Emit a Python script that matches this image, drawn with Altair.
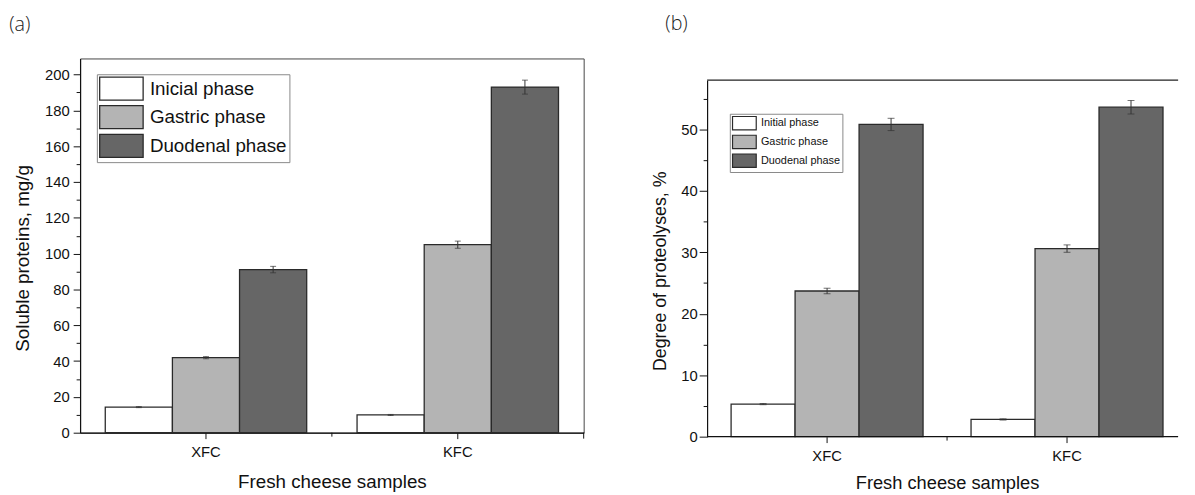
import altair as alt
import pandas as pd

# ---------------- data ----------------
samples = ["XFC", "KFC"]
phases_a = ["Inicial phase", "Gastric phase", "Duodenal phase"]
phases_b = ["Initial phase", "Gastric phase", "Duodenal phase"]

protein_xfc = [14.3, 41.9, 91.1]
protein_kfc = [9.9, 105.0, 193.0]
protein_err_xfc = [0.3, 0.6, 1.8]
protein_err_kfc = [0.3, 2.0, 3.9]

degree_xfc = [5.3, 23.7, 50.8]
degree_kfc = [2.8, 30.6, 53.6]
degree_err_xfc = [0.1, 0.45, 1.0]
degree_err_kfc = [0.1, 0.6, 1.1]

fills = ["#ffffff", "#b4b4b4", "#666666"]

a_ticks = list(range(0, 201, 10))
b_ticks = list(range(0, 56, 5))


def frame(phases, vx, vk, ex, ek):
    rows = []
    for s, vals, errs in (("XFC", vx, ex), ("KFC", vk, ek)):
        for p, v, e in zip(phases, vals, errs):
            rows.append({"sample": s, "phase": p, "value": v, "lo": v - e, "hi": v + e})
    return pd.DataFrame(rows)


df_a = frame(phases_a, protein_xfc, protein_kfc, protein_err_xfc, protein_err_kfc)
df_b = frame(phases_b, degree_xfc, degree_kfc, degree_err_xfc, degree_err_kfc)
one = pd.DataFrame({"k": [0]})

FONT = "Liberation Sans"


def swatch_path(w, h):
    r = h / 2.0
    return f"M-1,-1H{w / r - 1:.3f}V1H-1Z"


def panel(df, phases, ymax, yrange, yticks, major, ytitle, ytitle_size, ytitle_x, ytitle_y,
          xtitle_size, xtitle_y, xtitle_x, xrange, x_domain, leg, label, label_xy,
          ytick_major, ytick_minor, ylabel_pad, cap):
    if xrange is not None:
        xscale = alt.Scale(paddingInner=0.2, paddingOuter=0.1, range=xrange)
    else:
        xscale = alt.Scale(paddingInner=0.2, paddingOuter=0.1)
    x = alt.X("sample:N", sort=samples, scale=xscale,
              axis=alt.Axis(title="Fresh cheese samples", labelAngle=0, labelFontSize=15,
                            labelPadding=6, tickSize=6, domain=x_domain, domainWidth=1.2,
                            titleFontSize=xtitle_size, titleBaseline="middle",
                            titleY=xtitle_y, titleX=xtitle_x))
    xo = alt.XOffset("phase:N", sort=phases, scale=alt.Scale(paddingInner=0, paddingOuter=0))
    yaxis = alt.Axis(values=yticks, grid=False,
                     labelExpr=f"datum.value % {major} === 0 ? datum.label : ''",
                     tickSize={"condition": {"test": f"datum.value % {major} === 0", "value": ytick_major},
                               "value": ytick_minor},
                     labelFontSize=15, labelPadding=ylabel_pad, domainWidth=1.2,
                     title=ytitle, titleFontSize=ytitle_size, titleBaseline="middle",
                     titleX=ytitle_x, titleY=ytitle_y)
    if yrange is not None:
        yscale = alt.Scale(domain=[0, ymax], nice=False, zero=True, range=yrange)
    else:
        yscale = alt.Scale(domain=[0, ymax], nice=False, zero=True)

    bars = alt.Chart(df).mark_bar(stroke="#2a2a2a", strokeWidth=1.3).encode(
        x=x, xOffset=xo,
        y=alt.Y("value:Q", scale=yscale, axis=yaxis),
        color=alt.Color("phase:N", sort=phases,
                        scale=alt.Scale(domain=phases, range=fills), legend=leg),
    )
    err = alt.Chart(df).mark_rule(color="#333333", strokeWidth=1).encode(
        x=x, xOffset=xo, y=alt.Y("lo:Q", scale=yscale, axis=yaxis), y2="hi:Q")
    cap_lo = alt.Chart(df).mark_tick(color="#333333", thickness=1, size=cap, orient="horizontal").encode(
        x=x, xOffset=xo, y=alt.Y("lo:Q", scale=yscale, axis=yaxis))
    cap_hi = alt.Chart(df).mark_tick(color="#333333", thickness=1, size=cap, orient="horizontal").encode(
        x=x, xOffset=xo, y=alt.Y("hi:Q", scale=yscale, axis=yaxis))
    lab = alt.Chart(one).mark_text(text=label, fontSize=20, font="Open Sans", fontWeight=300,
                                   align="center", baseline="middle", color="#222").encode(
        x=alt.value(label_xy[0]), y=alt.value(label_xy[1]))
    return [bars, err, cap_lo, cap_hi, lab]


# ---------------- panel (a) ----------------
WA, HA = 510, 379
ha_sw, wa_sw = 23.3, 44
leg_a = alt.Legend(title=None, orient="none", legendX=17, legendY=16, direction="vertical",
                   symbolType=swatch_path(wa_sw, ha_sw), symbolSize=ha_sw ** 2,
                   symbolStrokeColor="#2a2a2a", symbolStrokeWidth=1.3,
                   labelFontSize=19, labelFont=FONT, labelColor="#111",
                   labelOffset=wa_sw + 6 - ha_sw, rowPadding=0, padding=2,
                   strokeColor="#888888", fillColor="white", labelLimit=400)
layers_a = panel(df_a, phases_a, 209, None, a_ticks, 20, "Soluble proteins, mg/g", 19, -58, 202,
                 19, 49, 255, None, True, leg_a, "(a)", (-61, -34), 7, 4, 4, 6)
mid_a = alt.Chart(one).mark_rule(color="#111", strokeWidth=1).encode(
    x=alt.value(255), y=alt.value(HA), y2=alt.value(HA + 4))
end_a = alt.Chart(one).mark_rule(color="#111", strokeWidth=1).encode(
    x=alt.value(WA), y=alt.value(HA), y2=alt.value(HA + 6))
chart_a = alt.layer(*layers_a, mid_a, end_a).properties(
    width=WA, height=HA, view=alt.ViewBackground(stroke="#444444", strokeWidth=1))

# ---------------- panel (b) ----------------
WB, HB, TOPB = 477, 383, 22
hb_sw, wb_sw = 13.5, 24
leg_b = alt.Legend(title=None, orient="none", legendX=23, legendY=56, direction="vertical",
                   symbolType=swatch_path(wb_sw, hb_sw), symbolSize=hb_sw ** 2,
                   symbolStrokeColor="#2a2a2a", symbolStrokeWidth=1.2,
                   labelFontSize=11, labelFont=FONT, labelColor="#111",
                   labelOffset=wb_sw + 4 - hb_sw, rowPadding=0, padding=2,
                   strokeColor="#888888", fillColor="white", labelLimit=300)
layers_b = panel(df_b, phases_b, 58, [HB, TOPB], b_ticks, 10, "Degree of proteolyses, %", 18, -47, 215,
                 18.5, 47, 243, [0, 486], False, leg_b, "(b)", (-31, -35), 8, 4, 2, 7)
bottom_b = alt.Chart(one).mark_rule(color="#111", strokeWidth=1.2).encode(
    x=alt.value(0), x2=alt.value(WB), y=alt.value(HB))
top_b = alt.Chart(one).mark_rule(color="#222", strokeWidth=1.2).encode(
    x=alt.value(0), x2=alt.value(WB), y=alt.value(TOPB))
mid_b = alt.Chart(one).mark_rule(color="#111", strokeWidth=1).encode(
    x=alt.value(243), y=alt.value(HB), y2=alt.value(HB + 4))
chart_b = alt.layer(*layers_b, bottom_b, top_b, mid_b).properties(width=WB, height=HB)

chart = alt.hconcat(chart_a, chart_b, spacing=68).resolve_scale(
    color="independent", x="independent", y="independent", xOffset="independent"
).properties(
    padding={"left": 0, "top": 3, "right": 0, "bottom": 0}, background="white"
).configure_view(stroke=None).configure_axis(
    labelFont=FONT, titleFont=FONT, titleFontWeight="normal", domainColor="#111",
    tickColor="#111", labelColor="#111", titleColor="#111"
)

chart.save("out.html", embed_options={"renderer": "svg", "actions": False})
